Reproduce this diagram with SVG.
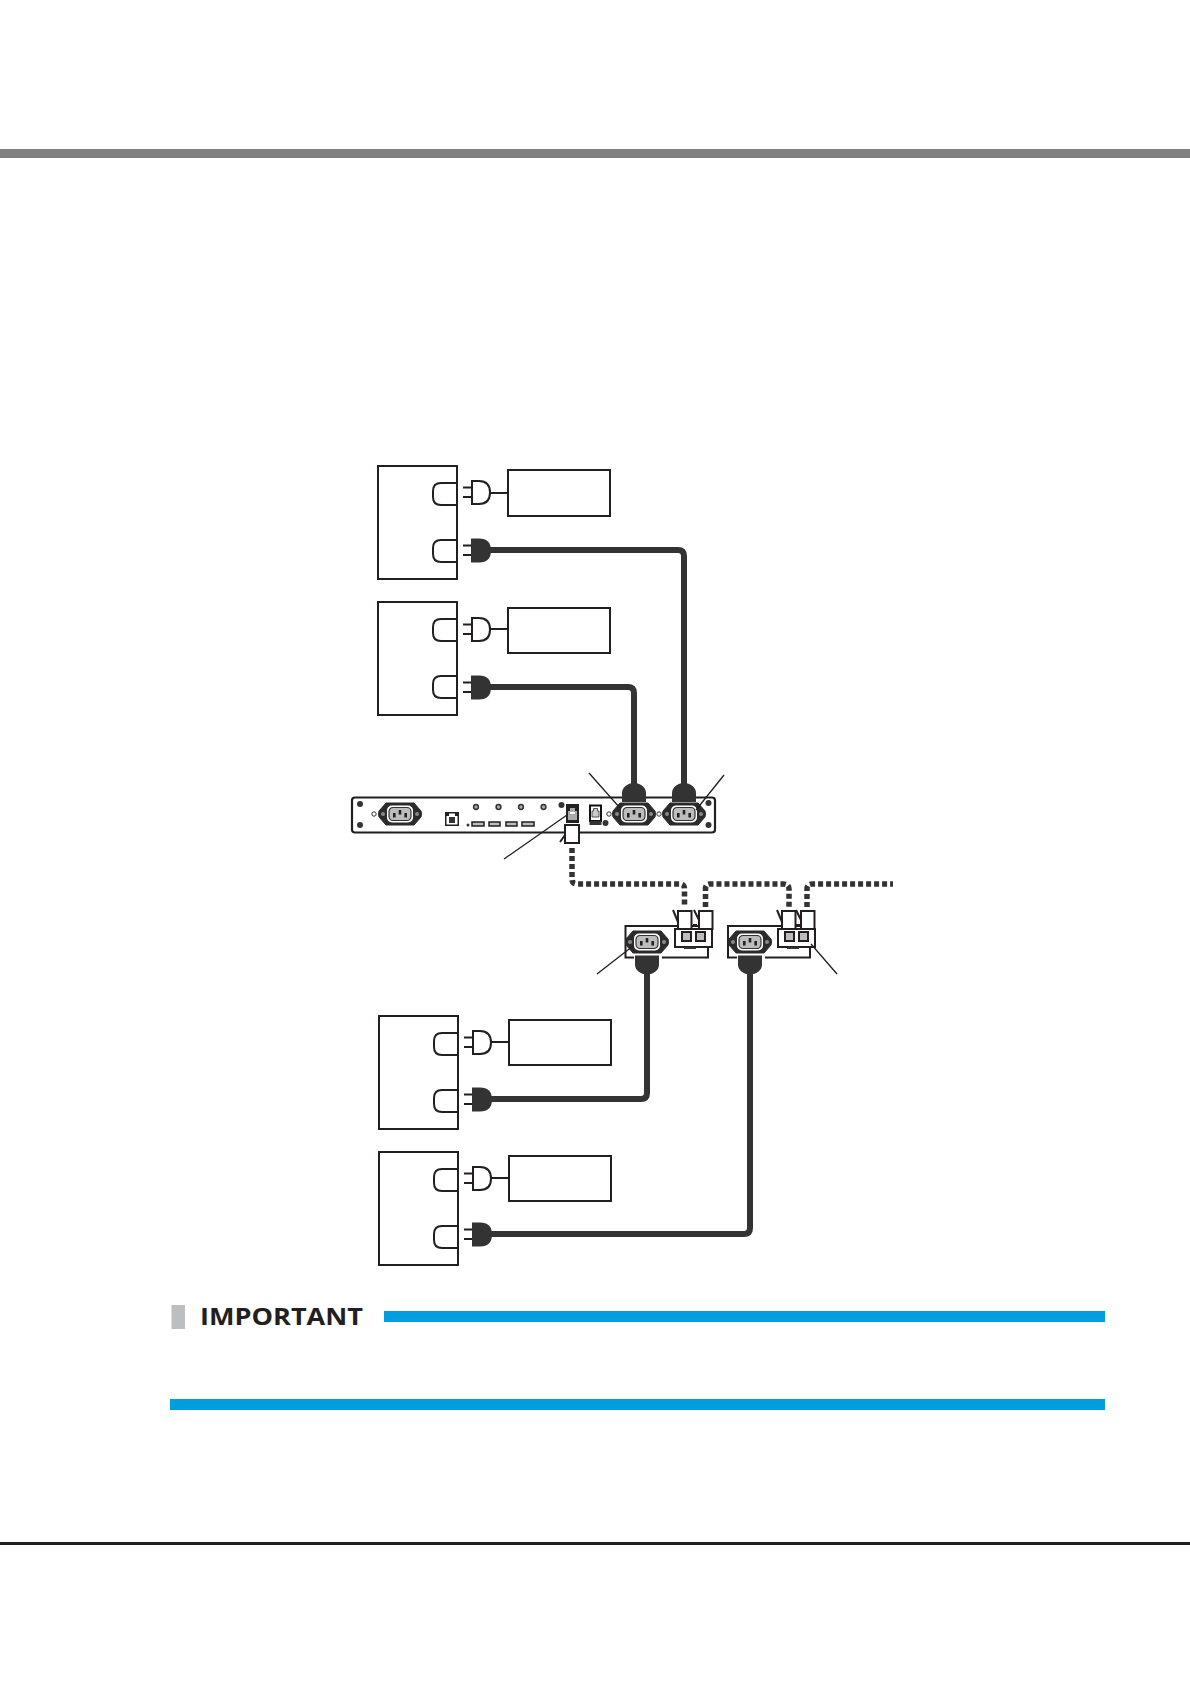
<svg xmlns="http://www.w3.org/2000/svg" width="1190" height="1684" viewBox="0 0 1190 1684">
<style>
.o{fill:#fff;stroke:#231f20;stroke-width:2}
.s{fill:none;stroke:#231f20;stroke-width:2}
.c{fill:none;stroke:#333;stroke-width:6;stroke-linejoin:round}
.d{fill:none;stroke:#333;stroke-width:5.500;stroke-dasharray:5 3}
.l{fill:none;stroke:#231f20;stroke-width:1.300}
.k{fill:#333}
.g{fill:#bdbdbd;stroke:#231f20;stroke-width:2}
.p{fill:#bdbdbd;stroke:#231f20;stroke-width:1.500}
</style>
<defs>
<g id="socket"><path class="s" d="M24 0H8Q0 0 0 8V14Q0 22 8 22H24"/></g>
<g id="plugw"><path class="s" d="M0 6.500H9M0 16H9"/><path class="o" d="M9 0H16Q27 0 27 11.500Q27 23 16 23H9Z"/></g>
<g id="plugb"><path class="s" d="M0 6.500H9M0 16H9"/><path fill="#333" d="M8 -.500H16Q28 -.500 28 11.500Q28 23.500 16 23.500H8Z"/></g>
<g id="inlet">
<path fill="#2b2b2b" d="M-14 -11H14L21 -3Q22 0 21 3L14 11H-14L-21 3Q-22 0 -21 -3Z" stroke="#2b2b2b" stroke-linejoin="round"/>
<circle cx="-17" r="2" fill="#888"/><circle cx="17" r="2" fill="#888"/>
<rect x="-13" y="-8.500" width="26" height="17" rx="5" fill="#fff"/>
<rect x="-11" y="-6.500" width="22" height="13" rx="4" fill="#bdbdbd" stroke="#333" stroke-width="1.200"/>
<rect x="-7" y="-1" width="2.600" height="4.500" fill="#222"/><rect x="-1.300" y="-4" width="2.600" height="4.500" fill="#222"/><rect x="4.400" y="-1" width="2.600" height="4.500" fill="#222"/>
</g>
<path id="bell" fill="#333" d="M-12 19V10Q-12 6 -8.500 3Q-5 0 0 0Q5 0 8.500 3Q12 6 12 10V19Z"/>
<circle id="hole" r="3" fill="#333"/>
<circle id="ring" r="2.400" fill="#aaa" stroke="#333" stroke-width="1.500"/>
<circle id="ring2" r="2.200" fill="#fff" stroke="#333" stroke-width="1"/>
</defs>

<rect id="top-bar" x="0" y="149" width="1190" height="9" fill="#808080"/>

<g id="pdu-upper-1">
<rect class="o" x="378" y="466" width="79" height="113"/>
<use href="#socket" x="433" y="483"/><use href="#socket" x="433" y="540"/>
<use href="#plugw" x="463" y="481"/><use href="#plugb" x="463" y="539"/>
</g>
<rect id="load-1" class="o" x="508" y="470" width="102" height="46"/>
<g id="pdu-upper-2">
<rect class="o" x="378" y="602" width="79" height="113"/>
<use href="#socket" x="433" y="619"/><use href="#socket" x="433" y="676"/>
<use href="#plugw" x="463" y="618"/><use href="#plugb" x="463" y="676"/>
</g>
<rect id="load-2" class="o" x="508" y="608" width="102" height="45"/>
<g id="pdu-lower-1">
<rect class="o" x="379" y="1016" width="79" height="113"/>
<use href="#socket" x="434" y="1033"/><use href="#socket" x="434" y="1090"/>
<use href="#plugw" x="464" y="1031"/><use href="#plugb" x="464" y="1088"/>
</g>
<rect id="load-3" class="o" x="509" y="1020" width="102" height="45"/>
<g id="pdu-lower-2">
<rect class="o" x="379" y="1152" width="79" height="113"/>
<use href="#socket" x="434" y="1169"/><use href="#socket" x="434" y="1226"/>
<use href="#plugw" x="464" y="1167"/><use href="#plugb" x="464" y="1223"/>
</g>
<rect id="load-4" class="o" x="509" y="1156" width="102" height="45"/>

<g id="main-panel">
<rect x="352" y="797.500" width="363" height="35" rx="3" fill="#fff" stroke="#231f20" stroke-width="2.200"/>
<use href="#hole" x="360" y="804"/><use href="#hole" x="360" y="825"/><use href="#hole" x="708.500" y="803"/><use href="#hole" x="708.500" y="825"/>
<use href="#ring2" x="374" y="814"/><use href="#ring2" x="609" y="814"/><use href="#ring2" x="659" y="814"/>
<use href="#inlet" x="400" y="814"/>
<rect x="445" y="812" width="14" height="14" fill="#222"/><path fill="#fff" d="M446.500 816H449V813.500H455V816H457.500V824.500H446.500Z"/><rect x="449" y="817" width="6" height="6" fill="#333"/>
<circle cx="468" cy="825" r="1.500" fill="#333"/>
<rect class="p" x="472" y="822" width="12" height="4"/><rect class="p" x="489" y="822" width="11" height="4"/><rect class="p" x="506" y="822" width="11" height="4"/><rect class="p" x="522" y="822" width="12" height="4"/>
<use href="#ring" x="476" y="807"/><use href="#ring" x="498.500" y="807"/><use href="#ring" x="521" y="807"/><use href="#ring" x="543.500" y="807"/>
<use href="#hole" x="561.500" y="805"/>
<rect x="566" y="804" width="13" height="19" fill="#222"/><path fill="#aaa" d="M568 811H570V808H575V811H577V820H568Z"/><path fill="#fff" d="M570 812H575V814H570Z"/>
<rect x="590" y="805.500" width="11" height="15.500" fill="#fff" stroke="#111" stroke-width="2"/><rect x="589.500" y="821" width="12" height="4" fill="#333"/><path fill="#ccc" stroke="#333" stroke-width=".8" d="M592 811H593.500V808.500H597.500V811H599V817H592Z"/>
<use href="#hole" x="605.500" y="823"/>
<use href="#inlet" x="634" y="814"/><use href="#inlet" x="684" y="814"/>
<use href="#bell" x="634" y="783"/><use href="#bell" x="684" y="783"/>
<rect x="565" y="825" width="14" height="18" fill="#fff" stroke="#231f20" stroke-width="2"/><path class="s" d="M560 842L565 835"/>
</g>

<g id="power-unit-1">
<rect x="625.500" y="926" width="82.500" height="31.500" fill="#fff" stroke="#231f20" stroke-width="2"/>
<use href="#inlet" x="647" y="942"/>
<path fill="#fff" d="M634 955H662V960H634Z"/>
<use href="#bell" x="647" y="974" transform="rotate(180 647 974) translate(0 -.500)"/>
<rect class="o" x="675" y="929" width="37" height="18"/>
<rect class="k" x="684" y="947" width="12" height="2"/>
<rect class="g" x="682" y="932" width="9" height="9"/><rect class="g" x="696" y="932" width="9" height="9"/>
<rect class="o" x="678" y="911" width="13.500" height="18"/><rect class="o" x="699" y="911" width="13.500" height="18"/>
<path class="s" d="M673 910L678 922M694 910L699 920M693 925H697"/>
</g>
<g id="power-unit-2">
<rect x="728" y="926" width="82" height="31.500" fill="#fff" stroke="#231f20" stroke-width="2"/>
<use href="#inlet" x="750" y="942"/>
<path fill="#fff" d="M737 955H765V960H737Z"/>
<use href="#bell" x="750" y="974" transform="rotate(180 750 974) translate(0 -.500)"/>
<rect class="o" x="778" y="929" width="37" height="18"/>
<rect class="k" x="787" y="947" width="12" height="2"/>
<rect class="g" x="785" y="932" width="9" height="9"/><rect class="g" x="799" y="932" width="9" height="9"/>
<rect class="o" x="782" y="911" width="13.500" height="18"/><rect class="o" x="801" y="911" width="13.500" height="18"/>
<path class="s" d="M777 910L782 922M796 910L801 920M796 925H800"/>
</g>

<g id="connectors">
<path class="s" d="M490 493H508M490 629H508M491 1042H509M491 1178H509"/>
<path class="c" d="M488 550H678Q684 550 684 556V785"/>
<path class="c" d="M488 687H628Q634 687 634 693V785"/>
<path class="c" d="M647 970V1093Q647 1099 641 1099H489"/>
<path class="c" d="M750 970V1228Q750 1234 744 1234H489"/>
<path class="d" d="M572 848V879Q572 884 577 884H680Q684.500 884 684.500 889V907"/>
<path class="d" d="M705.500 907V889Q705.500 884 710 884H783Q789 884 789 889V907"/>
<path class="d" d="M807 907V889Q807 884 812 884H893"/>
<path class="l" d="M589 773L620 808M724 775L696 810M504 859L567 815M597 974L633 946M837 974L811 944"/>
</g>

<g id="important">
<rect x="171.500" y="1305" width="13.500" height="24" fill="#bcbec0"/>
<text x="200" y="1325" font-family="'Open Sans',sans-serif" font-weight="700" font-size="24" fill="#231f20" textLength="163" lengthAdjust="spacingAndGlyphs">IMPORTANT</text>
<rect x="384" y="1311" width="721" height="11" fill="#009ddf"/>
<rect x="170" y="1399" width="935" height="11" fill="#009ddf"/>
</g>
<rect id="bottom-rule" x="0" y="1542" width="1190" height="3" fill="#231f20"/>
</svg>
